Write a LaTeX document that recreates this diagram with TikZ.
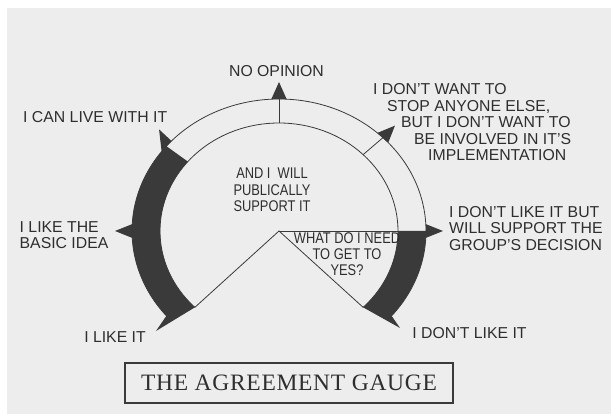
\documentclass[tikz,border=0pt]{standalone}
\usepackage{fontspec}
\setmainfont{Liberation Sans}
\newfontfamily\titlefont[LetterSpace=3]{Liberation Serif}
\newfontfamily\narrowfont[FakeStretch=0.83]{Liberation Sans}
\usetikzlibrary{positioning}
\definecolor{paper}{HTML}{EDEDED}
\definecolor{ink}{HTML}{3A3A3A}
\definecolor{lettering}{HTML}{2E2E2E}
\tikzset{
    gauge label/.style={inner sep=0pt,text=lettering,font=\fontsize{15.8}{16.5}\selectfont},
    inner note/.style={inner sep=0pt,text=lettering,align=center,font=\narrowfont\fontsize{15.5}{16.3}\selectfont},
    band/.style={fill=ink},
    rim/.style={draw=ink,line width=0.8pt},
    title box/.style={draw=ink,line width=1.2pt,minimum width=328pt,minimum height=40pt,
        text=lettering,font=\titlefont\fontsize{23.5}{26}\selectfont}
}
% pointer on the outer rim: base angle, tip angle
\newcommand{\gaugepointer}[2]{%
    \fill[band] (#1+3:147 and 132) -- (#2:164 and 149) -- (#1-3:147 and 132) -- cycle;}

\begin{document}
\begin{tikzpicture}[x=1pt,y=1pt]

    \useasboundingbox (0,0) rectangle (611,414);
    \fill[white] (0,0) rectangle (611,414);
    \fill[paper] (7,0) rectangle (611,406);

    \coordinate (centre) at (279,183);

    \begin{scope}[shift={(centre)}]
        \coordinate (apex)      at (0,0);
        \coordinate (left end)  at (225:119 and 108);
        \coordinate (right end) at (-45:119 and 108);
        \coordinate (rim east)  at (0:147 and 132);

        % dark bands
        \fill[band] (140:147 and 132) arc[start angle=140,end angle=220,x radius=147,y radius=132]
            -- (-123,-100) -- (left end)
            arc[start angle=225,end angle=140,x radius=119,y radius=108] -- cycle;
        \fill[band] (rim east) arc[start angle=0,end angle=-40,x radius=147,y radius=132]
            -- (121,-97) -- (right end)
            arc[start angle=-45,end angle=0,x radius=119,y radius=108] -- cycle;

        % rims and ticks
        \draw[rim] (-40:147 and 132) arc[start angle=-40,end angle=220,x radius=147,y radius=132];
        \draw[rim] (right end) arc[start angle=-45,end angle=225,x radius=119,y radius=108];
        \draw[rim] (90:119 and 108) -- (90:147 and 132);
        \draw[rim] (45:119 and 108) -- (45:147 and 132);

        % the wedge
        \draw[rim] (left end) -- (apex) -- (right end);
        \draw[rim] (apex) -- (rim east);

        % pointers
        \gaugepointer{90}{90}
        \gaugepointer{45}{45}
        \gaugepointer{0}{0}
        \gaugepointer{140}{137}
        \gaugepointer{180}{180}
    \end{scope}

    \node[gauge label] (no opinion) at (276.5,343) {NO OPINION};
    \node[gauge label,anchor=west] (live with) at (23,297) {I CAN LIVE WITH IT};
    \node[gauge label,anchor=west,align=left] (basic idea) at (19.5,179) {I LIKE THE\\BASIC IDEA};
    \node[gauge label] (like it) at (115,77) {I LIKE IT};
    \node[inner note] (support) at (272,224) {AND I\ \ WILL\\PUBLICALLY\\SUPPORT IT};
    \node[inner note] (get to yes) at (347,160) {WHAT DO I NEED\\TO GET TO\\YES?};
    \node[gauge label,anchor=west,align=left] (not involved) at (373,291.5)
        {I DON'T WANT TO\\\hspace*{14pt}STOP ANYONE ELSE,\\\hspace*{28pt}BUT I DON'T WANT TO\\
         \hspace*{41pt}BE INVOLVED IN IT'S\\\hspace*{55pt}IMPLEMENTATION};
    \node[gauge label,anchor=west,align=left] (group decision) at (449,185.5)
        {I DON'T LIKE IT BUT\\WILL SUPPORT THE\\GROUP'S DECISION};
    \node[gauge label] (dislike) at (469.5,81) {I DON'T LIKE IT};

    \node[title box] (title) at (289,31) {THE AGREEMENT GAUGE};

\end{tikzpicture}
\end{document}
